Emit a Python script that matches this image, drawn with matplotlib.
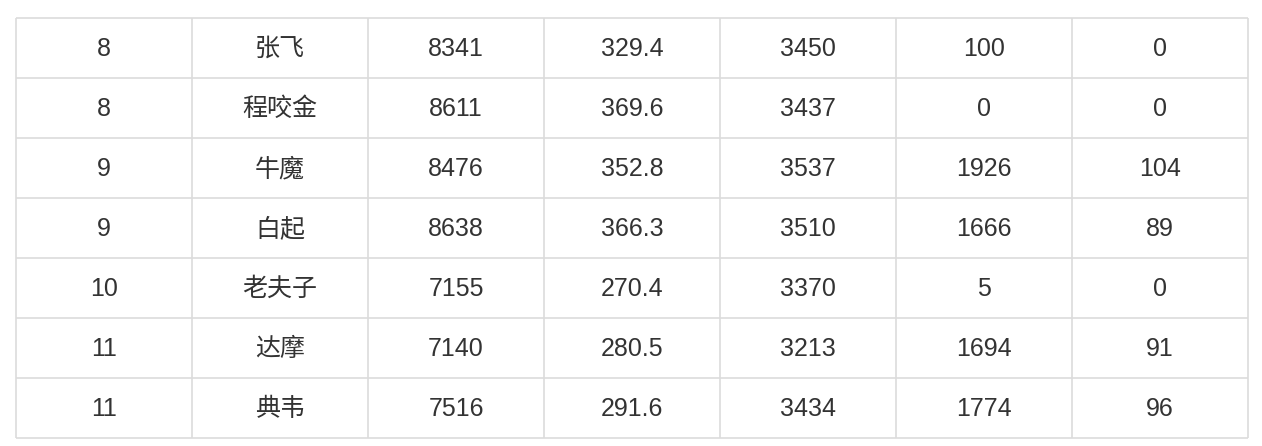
import matplotlib.pyplot as plt

plt.rcParams['font.family'] = ['Liberation Sans', 'Noto Sans CJK SC']

# table data
level = ['8', '8', '9', '9', '10', '11', '11']
hero = ['张飞', '程咬金', '牛魔', '白起', '老夫子', '达摩', '典韦']
hp = ['8341', '8611', '8476', '8638', '7155', '7140', '7516']
growth = ['329.4', '369.6', '352.8', '366.3', '270.4', '280.5', '291.6']
max_val = ['3450', '3437', '3537', '3510', '3370', '3213', '3434']
col6 = ['100', '0', '1926', '1666', '5', '1694', '1774']
col7 = ['0', '0', '104', '89', '0', '91', '96']
columns = [level, hero, hp, growth, max_val, col6, col7]

fig = plt.figure(figsize=(12.62, 4.46), dpi=100)
ax = fig.add_axes([0, 0, 1, 1])
ax.set_xlim(0, 1262)
ax.set_ylim(446, 0)
ax.axis('off')

x0, col_w = 16, 176
y0, row_h = 18, 60
n_rows, n_cols = len(level), len(columns)
line_color = '#dcdcdc'

for i in range(n_rows + 1):
    ax.hlines(y0 + i * row_h, x0, x0 + n_cols * col_w, color=line_color, lw=1.2)
for j in range(n_cols + 1):
    ax.vlines(x0 + j * col_w, y0, y0 + n_rows * row_h, color=line_color, lw=1.2)

for j, col in enumerate(columns):
    for i, val in enumerate(col):
        ax.text(x0 + (j + 0.5) * col_w, y0 + (i + 0.5) * row_h + 1, val,
                ha='center', va='center', fontsize=18, color='#333333')

plt.savefig('out.png', dpi=100)
